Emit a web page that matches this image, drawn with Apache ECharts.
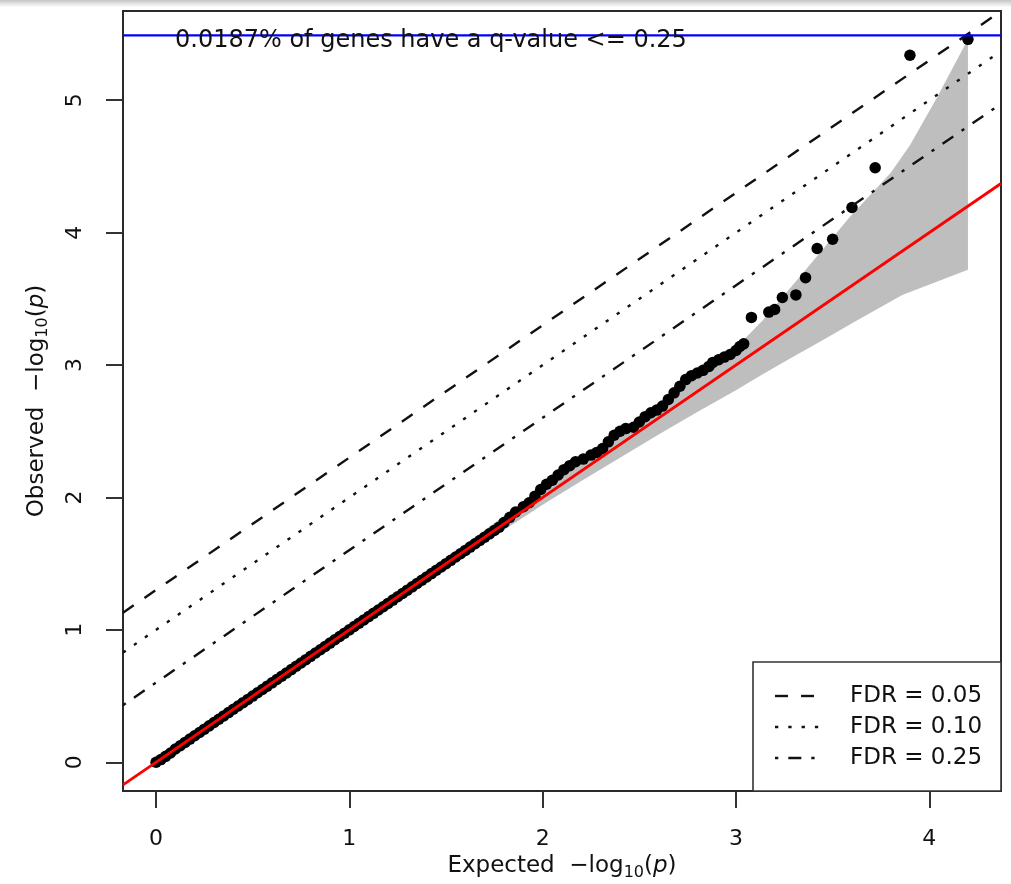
<!DOCTYPE html>
<html>
<head>
<meta charset="utf-8">
<script src="https://cdn.jsdelivr.net/npm/echarts@6/dist/echarts.min.js"></script>
<style>html,body{margin:0;padding:0;background:#fff;}#c{width:1011px;height:884px;}</style>
</head>
<body>
<div id="c"></div>
<script>
// ---- data ----
const expectedQ = [0,0.025,0.05,0.075,0.1,0.125,0.15,0.175,0.2,0.225,0.25,0.275,0.3,0.325,0.35,0.375,0.4,0.425,0.45,0.475,0.5,0.525,0.55,0.575,0.6,0.625,0.65,0.675,0.7,0.725,0.75,0.775,0.8,0.825,0.85,0.875,0.9,0.925,0.95,0.975,1.0,1.025,1.05,1.075,1.1,1.125,1.15,1.175,1.2,1.225,1.25,1.275,1.3,1.325,1.35,1.375,1.4,1.425,1.45,1.475,1.5,1.525,1.55,1.575,1.6,1.625,1.65,1.675,1.7,1.725,1.75,1.775,
  1.80,1.83,1.86,1.90,1.93,1.96,1.99,2.02,2.05,2.08,2.11,2.14,2.17,2.21,2.25,2.28,2.31,2.34,2.37,2.40,2.43,2.47,2.50,2.53,2.56,2.59,2.62,2.65,2.68,2.71,2.74,2.77,2.80,2.83,2.86,2.88,2.91,2.94,2.97,3.00,3.02,3.04,
  3.08,3.17,3.20,3.24,3.31,3.36,3.42,3.50,3.60,3.72,3.90,4.20];
const observedQ = [0,0.02,0.045,0.07,0.1,0.125,0.15,0.175,0.2,0.225,0.25,0.275,0.3,0.325,0.35,0.375,0.4,0.425,0.45,0.475,0.5,0.525,0.55,0.575,0.6,0.625,0.65,0.675,0.7,0.725,0.75,0.775,0.8,0.825,0.85,0.875,0.9,0.925,0.95,0.975,1.0,1.025,1.05,1.075,1.1,1.125,1.15,1.175,1.2,1.225,1.25,1.275,1.3,1.325,1.35,1.375,1.4,1.425,1.45,1.475,1.5,1.525,1.55,1.575,1.6,1.625,1.65,1.675,1.7,1.725,1.75,1.775,
  1.81,1.85,1.89,1.93,1.96,2.01,2.06,2.10,2.13,2.17,2.21,2.24,2.27,2.29,2.32,2.34,2.37,2.42,2.47,2.50,2.52,2.53,2.57,2.61,2.64,2.66,2.69,2.74,2.79,2.84,2.89,2.92,2.94,2.96,2.99,3.02,3.04,3.06,3.08,3.11,3.14,3.16,
  3.36,3.40,3.42,3.51,3.53,3.66,3.88,3.95,4.19,4.49,5.34,5.46];

// confidence band (grey polygon)
const bandHiX = [0,1.0,1.5,1.8,2.0,2.2,2.4,2.6,2.8,3.0,3.14,3.35,3.59,3.80,3.90,4.04,4.20];
const bandHi  = [0,1.02,1.54,1.86,2.07,2.28,2.49,2.70,2.93,3.13,3.34,3.70,4.12,4.45,4.66,5.02,5.46];
const bandLoX = [0,1.0,1.5,1.8,2.0,2.2,2.4,2.6,2.8,3.0,3.125,3.28,3.45,3.63,3.86,4.20];
const bandLo  = [0,0.985,1.47,1.755,1.945,2.125,2.30,2.475,2.645,2.81,2.92,3.05,3.19,3.34,3.53,3.72];

// FDR reference lines: y = x + intercept
const fdrLabels = ['FDR = 0.05','FDR = 0.10','FDR = 0.25'];
const fdrIntercepts = [1.301, 1.0, 0.602];
const qThreshold = 5.49;
const annotation = '0.0187% of genes have a q-value <= 0.25';
const xTicks = [0,1,2,3,4];
const yTicks = [0,1,2,3,4,5];

// ---- chart ----
const xMin = -0.171, xMax = 4.371, yMin = -0.217, yMax = 5.674;
const FONT = "'DejaVu Sans', sans-serif";
const INK = '#111';
const dashes = [[13,13],[3.3,10],[3.3,10,13,10]];

const chart = echarts.init(document.getElementById('c'), null, {renderer:'canvas'});

const fdrSeries = fdrIntercepts.map((c,i)=>({
  type:'line', name: fdrLabels[i], silent:true, symbol:'none', z:4, clip:true,
  data:[[xMin, xMin + c],[xMax, xMax + c]],
  lineStyle:{color:INK, width:2.4, type:dashes[i]}
}));

const nameRich = {
  sub:{fontFamily:FONT, fontSize:16, color:INK, verticalAlign:'top', padding:[12,0,0,0]},
  it:{fontFamily:FONT, fontSize:23, color:INK, fontStyle:'italic'}
};

const legendX0 = 753, legendY0 = 662, legendW = 248, legendH = 129;
const rowY = [696, 727, 758];
const legendGraphics = [{
  type:'rect', shape:{x:legendX0, y:legendY0, width:legendW, height:legendH},
  style:{fill:'#fff', stroke:'#333', lineWidth:1.6}, z:100
}];
fdrLabels.forEach((lab,i)=>{
  legendGraphics.push({type:'line', shape:{x1:775, y1:rowY[i], x2:821, y2:rowY[i]},
    style:{stroke:INK, lineWidth:2.4, lineDash:dashes[i]}, z:101});
  legendGraphics.push({type:'text', x:850, y:rowY[i],
    style:{text:lab, fontFamily:FONT, fontSize:23, fill:INK, textVerticalAlign:'middle', textAlign:'left'}, z:101});
});

chart.setOption({
  animation:false,
  backgroundColor:'#fff',
  grid:{left:123, top:11, width:878, height:780, show:true, borderColor:'#2a2a2a', borderWidth:2, backgroundColor:'transparent', containLabel:false, outerBoundsMode:'none'},
  xAxis:{
    type:'value', min:xMin, max:xMax,
    axisLine:{show:false, onZero:false},
    splitLine:{show:false},
    axisTick:{show:true, customValues:xTicks, length:17, lineStyle:{color:'#333', width:2}},
    axisLabel:{customValues:xTicks, margin:37, fontFamily:FONT, fontSize:22, color:INK, formatter:v=>String(v)},
    name:'Expected  \u2212log{sub|10}({it|p})', nameLocation:'middle', nameGap:60,
    nameTextStyle:{fontFamily:FONT, fontSize:23, color:INK, rich:nameRich}
  },
  yAxis:{
    type:'value', min:yMin, max:yMax,
    axisLine:{show:false, onZero:false},
    splitLine:{show:false},
    axisTick:{show:true, customValues:yTicks, length:17, lineStyle:{color:'#333', width:2}},
    axisLabel:{customValues:yTicks, rotate:90, margin:37, fontFamily:FONT, fontSize:22, color:INK, formatter:v=>String(v)},
    name:'Observed  \u2212log{sub|10}({it|p})', nameLocation:'middle', nameGap:72,
    nameTextStyle:{fontFamily:FONT, fontSize:23, color:INK, rich:nameRich}
  },
  series:[
    {
      type:'custom', silent:true, z:1, clip:true,
      data:[[0,0]],
      renderItem:function(params, api){
        const pts = [];
        for (let i=0;i<bandHiX.length;i++) pts.push(api.coord([bandHiX[i], bandHi[i]]));
        for (let i=bandLoX.length-1;i>=0;i--) pts.push(api.coord([bandLoX[i], bandLo[i]]));
        return {type:'polygon', shape:{points:pts}, style:{fill:'#bebebe', stroke:null}};
      }
    },
    {
      type:'scatter', silent:true, z:2, symbol:'circle', symbolSize:11.5,
      itemStyle:{color:'#000', opacity:1},
      data: expectedQ.map((x,i)=>[x, observedQ[i]])
    },
    {
      type:'line', silent:true, symbol:'none', z:3, clip:true,
      data:[[xMin,xMin],[xMax,xMax]],
      lineStyle:{color:'#ff0000', width:2.8}
    },
    ...fdrSeries,
    {
      type:'line', silent:true, symbol:'none', z:5, clip:true,
      data:[[xMin,qThreshold],[xMax,qThreshold]],
      lineStyle:{color:'#0000ff', width:2.4}
    }
  ],
  graphic:[
    {type:'rect', shape:{x:0,y:0,width:1011,height:7}, silent:true, z:0,
      style:{fill:new echarts.graphic.LinearGradient(0,0,0,1,[{offset:0,color:'#c4c4c4'},{offset:1,color:'#ffffff'}])}},
    {type:'text', x:175, y:41, z:50,
      style:{text:annotation, fontFamily:FONT, fontSize:24, fill:INK, textVerticalAlign:'middle', textAlign:'left'}},
    ...legendGraphics
  ]
});
</script>
</body>
</html>
